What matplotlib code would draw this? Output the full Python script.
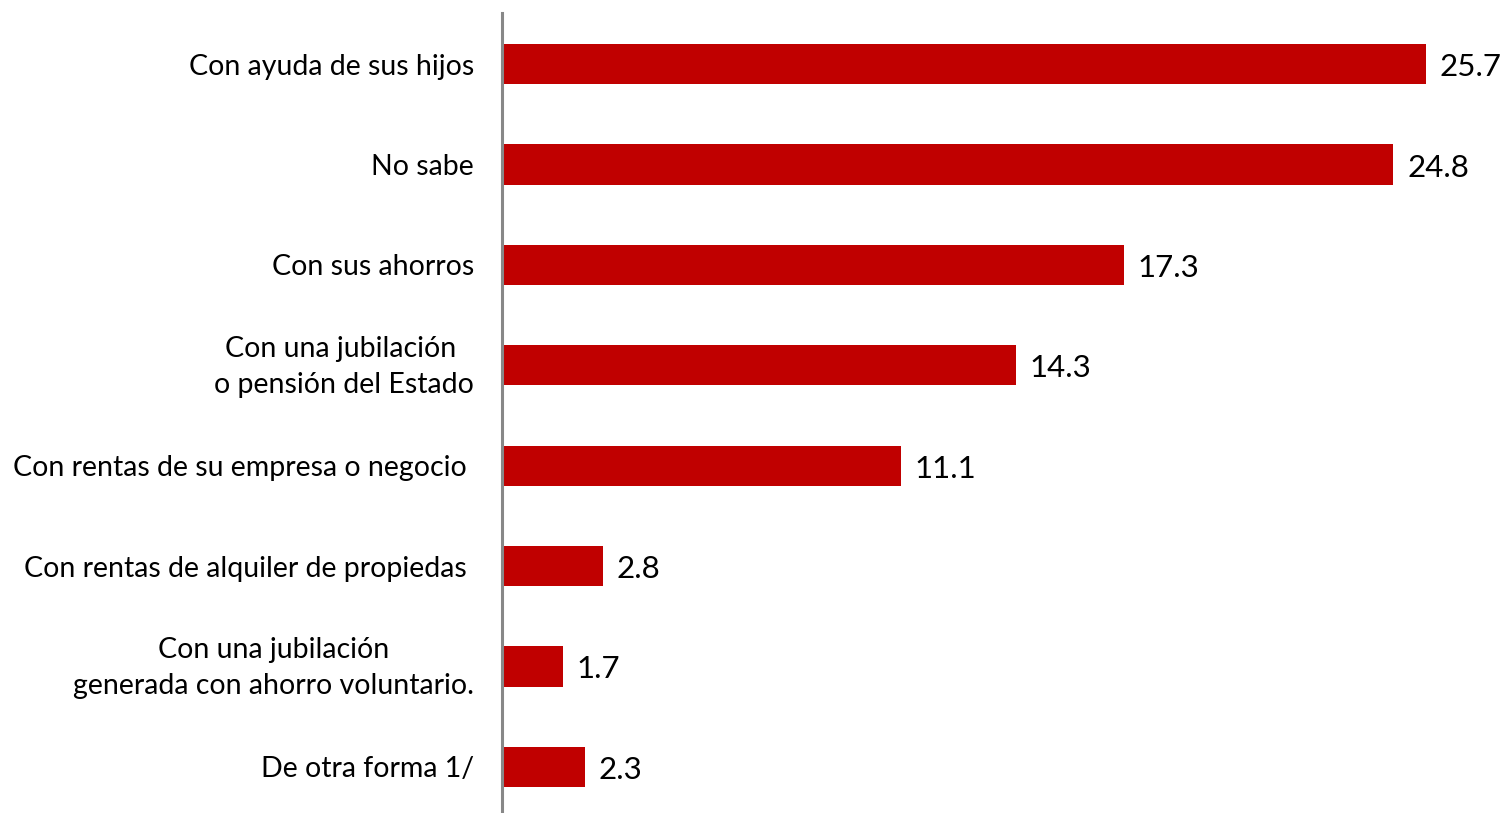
import matplotlib
matplotlib.use("Agg")
import matplotlib.pyplot as plt
import matplotlib.transforms as mtransforms

categories = [
    "Con ayuda de sus hijos",
    "No sabe",
    "Con sus ahorros",
    "Con una jubilación \no pensión del Estado",
    "Con rentas de su empresa o negocio ",
    "Con rentas de alquiler de propiedas ",
    "Con una jubilación\ngenerada con ahorro voluntario.",
    "De otra forma 1/",
]
values = [25.7, 24.8, 17.3, 14.3, 11.1, 2.8, 1.7, 2.3]

plt.rcParams['font.family'] = ['Lato', 'DejaVu Sans']

W, H = 1507, 813
fig = plt.figure(figsize=(W / 100, H / 100), dpi=100)
ax = fig.add_axes([502 / W, 0, 1 - 502 / W, 1 - 13 / H])

y = list(range(len(categories)))
ax.barh(y, values, height=0.4, color="#C00000", zorder=2)
ax.set_xlim(0, 27.96)
ax.set_ylim(7.46, -0.51)

ax.set_yticks(y)
ax.set_yticklabels(categories, fontsize=20.5, multialignment="center", linespacing=1.5)
ax.tick_params(axis="y", length=0, pad=20)
ax.set_xticks([])

for lab in ax.get_yticklabels():
    if "\n" in lab.get_text():
        lab.set_transform(lab.get_transform() +
                          mtransforms.ScaledTranslation(0, 6 / 100, fig.dpi_scale_trans))

for yi, v in zip(y, values):
    ax.text(v + 0.38, yi + 0.03, f"{v}", va="center", ha="left", fontsize=22.5, color="black")

for s in ["top", "right", "bottom"]:
    ax.spines[s].set_visible(False)
ax.spines["left"].set_color("#888888")
ax.spines["left"].set_linewidth(2.2)

fig.savefig("out.png", dpi=100)
